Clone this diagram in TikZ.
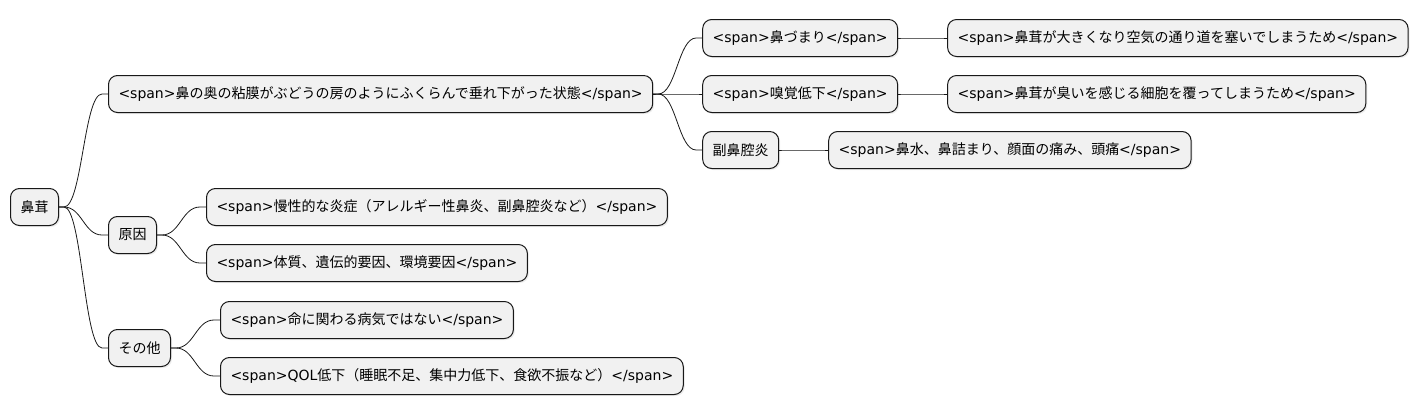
\documentclass[tikz,border=0pt]{standalone}
\usepackage{fontspec}
\setmainfont{DejaVu Sans}
\newfontfamily\jpfont{Noto Sans CJK JP}
\usetikzlibrary{positioning,shadows}

\definecolor{boxfill}{HTML}{F1F1F1}
\definecolor{boxline}{HTML}{181818}

% <span>...</span> with the Japanese part in the CJK font
\newcommand{\spn}[1]{<span>{\jpfont #1}</span>}

\begin{document}
\begin{tikzpicture}[
    x=1pt, y=1pt,
    font=\fontsize{14}{17}\selectfont,
    topic/.style={
        draw=boxline,
        fill=boxfill,
        line width=1pt,
        rounded corners=9pt,
        minimum height=37pt,
        inner xsep=10pt,
        inner ysep=0pt,
        drop shadow={shadow xshift=1.5pt, shadow yshift=-1.5pt, opacity=0.15}
    },
    link/.style={line width=0.8pt, draw=boxline}
]
\useasboundingbox (0,0) rectangle (1419,-415);

\node[topic, anchor=west] (root) at (10,-207) {\jpfont 鼻茸};

% first branch
\node[topic, right=49pt of root, yshift=113pt] (state)
    {\spn{鼻の奥の粘膜がぶどうの房のようにふくらんで垂れ下がった状態}};
\node[topic, right=49pt of state, yshift=56pt] (block) {\spn{鼻づまり}};
\node[topic, right=49pt of state] (smell) {\spn{嗅覚低下}};
\node[topic, right=49pt of state, yshift=-56pt] (sinus) {\jpfont 副鼻腔炎};
\node[topic, right=49pt of block] (blockwhy)
    {\spn{鼻茸が大きくなり空気の通り道を塞いでしまうため}};
\node[topic, right=49pt of smell] (smellwhy)
    {\spn{鼻茸が臭いを感じる細胞を覆ってしまうため}};
\node[topic, right=49pt of sinus] (sinuswhy)
    {\spn{鼻水、鼻詰まり、顔面の痛み、頭痛}};

% causes
\node[topic, right=49pt of root, yshift=-28pt] (cause) {\jpfont 原因};
\node[topic, right=49pt of cause, yshift=28pt] (chronic)
    {\spn{慢性的な炎症（アレルギー性鼻炎、副鼻腔炎など）}};
\node[topic, right=49pt of cause, yshift=-28pt] (constit)
    {\spn{体質、遺伝的要因、環境要因}};

% other
\node[topic, right=49pt of root, yshift=-141pt] (other) {\jpfont その他};
\node[topic, right=49pt of other, yshift=28pt] (life)
    {\spn{命に関わる病気ではない}};
\node[topic, right=49pt of other, yshift=-28pt] (qol)
    {<span>QOL{\jpfont 低下（睡眠不足、集中力低下、食欲不振など）}</span>};

\foreach \a/\b in {root/state, root/cause, root/other,
                   state/block, state/smell, state/sinus,
                   block/blockwhy, smell/smellwhy, sinus/sinuswhy,
                   cause/chronic, cause/constit,
                   other/life, other/qol}
    \draw[link] (\a.east) -- ++(5,0)
        .. controls +(18,0) and +(-18,0) .. ([xshift=-6pt]\b.west) -- (\b.west);

\end{tikzpicture}
\end{document}
